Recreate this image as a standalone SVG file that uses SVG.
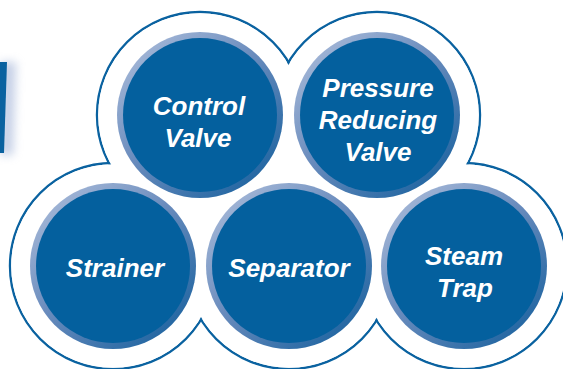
<svg xmlns="http://www.w3.org/2000/svg" width="563" height="369" viewBox="0 0 563 369">
<defs>
<linearGradient id="ring" x1="0.1" y1="0.05" x2="0.9" y2="0.95">
<stop offset="0" stop-color="#a8bad9"/>
<stop offset="0.45" stop-color="#6a8cbd"/>
<stop offset="1" stop-color="#1a629f"/>
</linearGradient>
<filter id="blur" x="-2" y="-0.3" width="5" height="1.6">
<feGaussianBlur stdDeviation="5"/>
</filter>
<style>
.outl{fill:none;stroke:#0a62a0;stroke-width:2.4}
.wh{fill:#ffffff}
.ring{fill:url(#ring)}
.core{fill:#04609e}
.lbl{font-family:"Liberation Sans",Arial,sans-serif;font-weight:bold;font-style:italic;font-size:26px;fill:#ffffff;text-anchor:middle}
</style>
</defs>
<rect width="563" height="369" fill="#ffffff"/>
<g id="side-bar">
<polygon points="0,62 16,62 13,155 0,155" fill="#8ea3cf" opacity="0.5" filter="url(#blur)"/>
<polygon points="0,62 7,62 4,153 0,153" fill="#0a62a0"/>
</g>
<g id="outline">
<circle class="outl" cx="200" cy="115" r="103"/>
<circle class="outl" cx="377" cy="115" r="103"/>
<circle class="outl" cx="113" cy="266" r="103"/>
<circle class="outl" cx="289" cy="266" r="103"/>
<circle class="outl" cx="464" cy="266" r="103"/>
<circle class="wh" cx="200" cy="115" r="101.8"/>
<circle class="wh" cx="377" cy="115" r="101.8"/>
<circle class="wh" cx="113" cy="266" r="101.8"/>
<circle class="wh" cx="289" cy="266" r="101.8"/>
<circle class="wh" cx="464" cy="266" r="101.8"/>
</g>
<g id="connectors"></g>
<g id="control-valve">
<circle class="ring" cx="200" cy="115" r="83"/>
<circle class="core" cx="200" cy="115" r="77"/>
<text class="lbl" x="199" y="115">Control</text>
<text class="lbl" x="198" y="147">Valve</text>
</g>
<g id="pressure-reducing-valve">
<circle class="ring" cx="377" cy="115" r="83"/>
<circle class="core" cx="377" cy="115" r="77"/>
<text class="lbl" x="378" y="97">Pressure</text>
<text class="lbl" x="378" y="129">Reducing</text>
<text class="lbl" x="378" y="161">Valve</text>
</g>
<g id="strainer">
<circle class="ring" cx="113" cy="266" r="83"/>
<circle class="core" cx="113" cy="266" r="77"/>
<text class="lbl" x="115" y="277">Strainer</text>
</g>
<g id="separator">
<circle class="ring" cx="289" cy="266" r="83"/>
<circle class="core" cx="289" cy="266" r="77"/>
<text class="lbl" x="289" y="277">Separator</text>
</g>
<g id="steam-trap">
<circle class="ring" cx="464" cy="266" r="83"/>
<circle class="core" cx="464" cy="266" r="77"/>
<text class="lbl" x="464" y="265">Steam</text>
<text class="lbl" x="465" y="297">Trap</text>
</g>
</svg>
